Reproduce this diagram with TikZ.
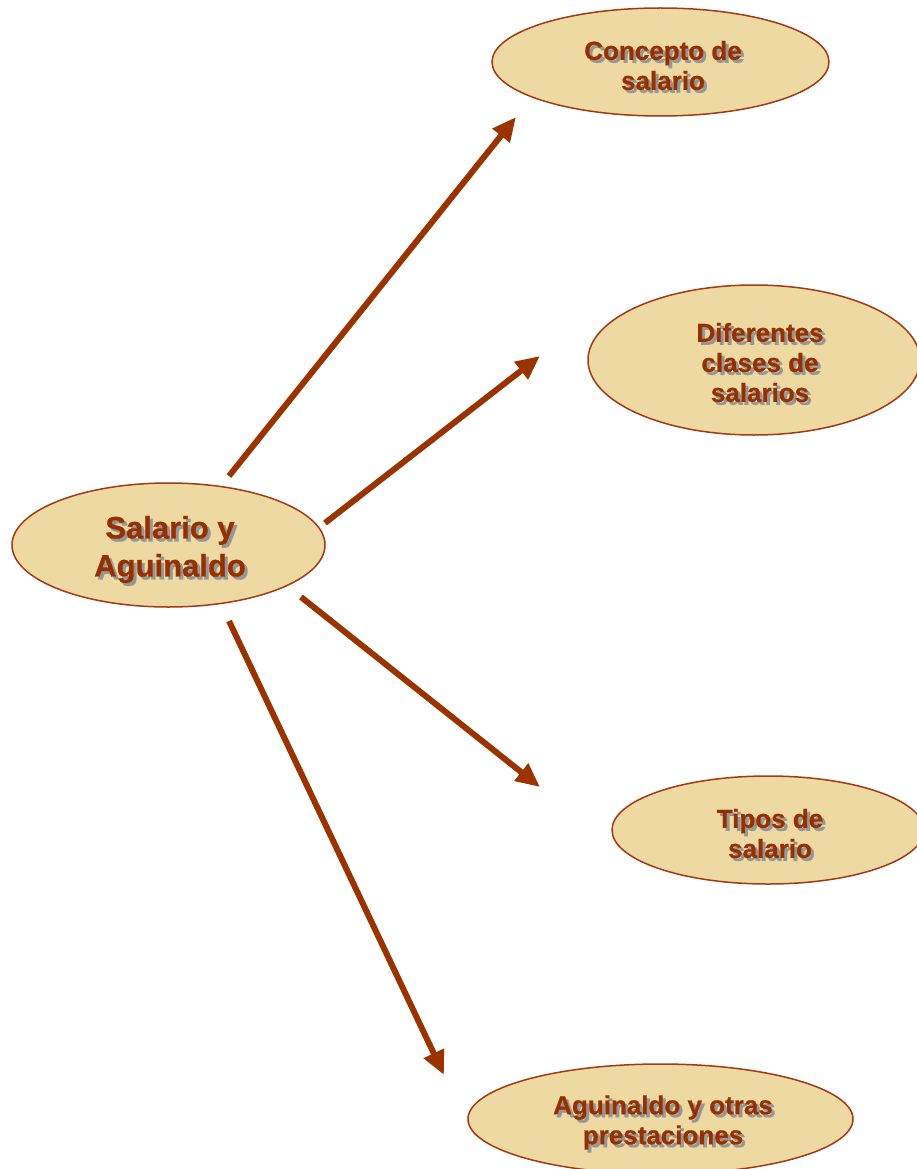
\documentclass[tikz,border=0pt]{standalone}
\usepackage{fontspec}
\setmainfont{Liberation Sans}[BoldFeatures={FakeBold=0.8}]
\usetikzlibrary{arrows.meta,shapes.geometric}
\definecolor{parch}{RGB}{238,217,163}
\definecolor{rim}{RGB}{160,58,20}
\definecolor{arr}{RGB}{153,51,0}
\definecolor{txtc}{RGB}{150,48,0}
\definecolor{shad}{RGB}{150,150,150}
\tikzset{
  oval/.style={ellipse, draw=rim, line width=1.5pt, fill=parch, inner sep=0pt},
  conn/.style={draw=arr, line width=6pt, -{Triangle[length=24pt,width=21pt]}},
  bigtxt/.style={align=center, font=\fontsize{31}{38}\selectfont\bfseries, text=txtc, inner sep=0pt},
  smalltxt/.style={align=center, font=\fontsize{26}{30}\selectfont\bfseries, text=txtc, inner sep=0pt}
}
\newcommand{\shd}[1]{\leavevmode\rlap{\hspace{3pt}\raisebox{-3pt}{\textcolor{shad}{#1}}}#1}
\begin{document}
\begin{tikzpicture}[x=1pt,y=-1pt]
\useasboundingbox (0,0) rectangle (917,1169);
\fill[white] (0,0) rectangle (917,1169);
% ovals
\node[oval, minimum width=313pt, minimum height=124pt] (root) at (168.5,545) {};
\node[oval, minimum width=337pt, minimum height=108pt] (c1) at (660.5,62) {};
\node[oval, minimum width=332pt, minimum height=150pt] (c2) at (754,360) {};
\node[oval, minimum width=312pt, minimum height=108pt] (c3) at (768,830) {};
\node[oval, minimum width=385pt, minimum height=110pt] (c4) at (660.5,1119) {};
% texts
\node[bigtxt] (troot) at (170,551) {\shd{Salario y}\\\shd{Aguinaldo}};
\node[smalltxt] (t1) at (663,67) {\shd{Concepto de}\\\shd{salario}};
\node[smalltxt] (t2) at (760,364) {\shd{Diferentes}\\\shd{clases de}\\\shd{salarios}};
\node[smalltxt] (t3) at (770,835) {\shd{Tipos de}\\\shd{salario}};
\node[smalltxt] (t4) at (663,1124) {\shd{Aguinaldo y otras}\\\shd{prestaciones}};
% connector ends
\coordinate (a1s) at (229,476);
\coordinate (a1e) at (516,117);
\coordinate (a2s) at (325,523);
\coordinate (a2e) at (540,356);
\coordinate (a3s) at (301,597);
\coordinate (a3e) at (540,787);
\coordinate (a4s) at (229,621);
\coordinate (a4e) at (444,1075);
\draw[conn] (a1s) -- (a1e);
\draw[conn] (a2s) -- (a2e);
\draw[conn] (a3s) -- (a3e);
\draw[conn] (a4s) -- (a4e);
\end{tikzpicture}
\end{document}
